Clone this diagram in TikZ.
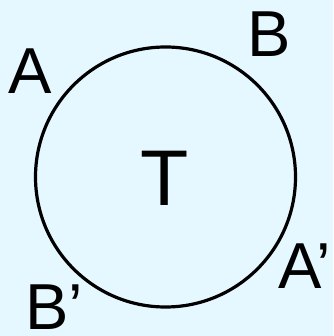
\documentclass[tikz,border=0pt]{standalone}
\usepackage{fontspec}
\setmainfont{Liberation Sans}
\definecolor{paleblue}{RGB}{230,248,255}
\begin{document}
\begin{tikzpicture}[
    x=1pt, y=-1pt,
    ring/.style={draw, line width=3.2pt},
    lbl/.style={inner sep=0pt, font=\fontsize{65}{70}\selectfont},
    big/.style={inner sep=0pt, font=\fontsize{79}{84}\selectfont}
]
% Background
\fill[paleblue] (0,0) rectangle (333,336);
\useasboundingbox (0,0) rectangle (333,336);
% Circle
\node[ring, circle, minimum size=260pt, inner sep=0pt] (ring) at (165.5,177) {};
% Centre label
\node[big, anchor=base] (T) at (165,205) {T};
% Outer labels
\node[lbl, anchor=base west] (A) at (8,94) {A};
\node[lbl, anchor=base west] (B) at (247,57) {B};
\node[lbl, anchor=base west] (Ap) at (278,288) {A’};
\node[lbl, anchor=base west] (Bp) at (25,329) {B’};
\end{tikzpicture}
\end{document}
